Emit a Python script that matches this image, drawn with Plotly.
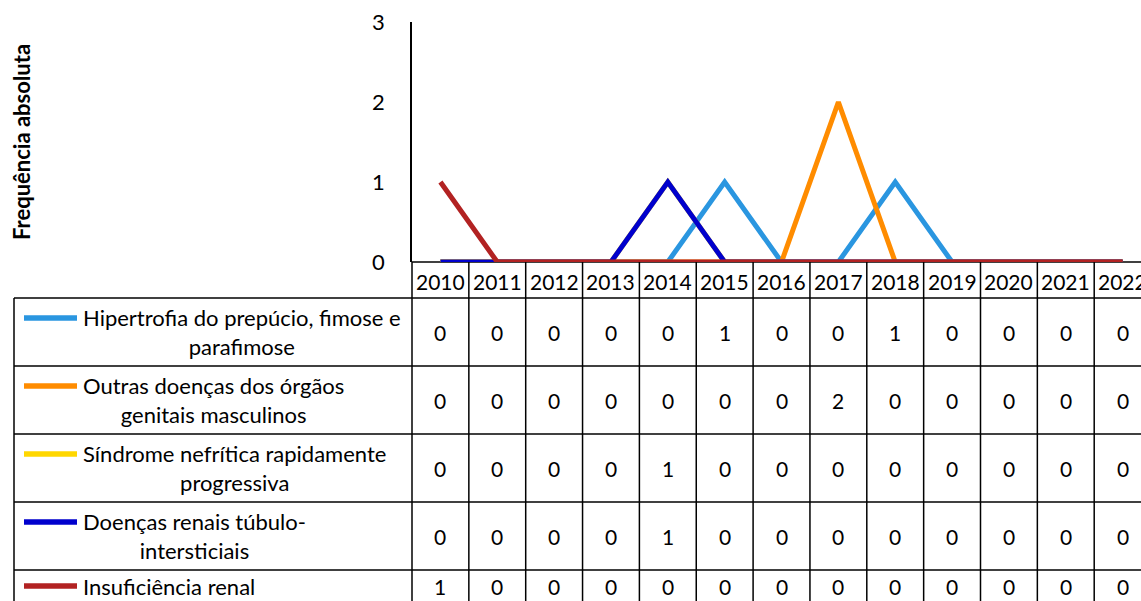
import plotly.graph_objects as go

years = [2010, 2011, 2012, 2013, 2014, 2015, 2016, 2017, 2018, 2019, 2020, 2021, 2022]
series_names = [
    "Hipertrofia do prepúcio, fimose e<br>parafimose",
    "Outras doenças dos órgãos<br>genitais masculinos",
    "Síndrome nefrítica rapidamente<br>progressiva",
    "Doenças renais túbulo-<br>intersticiais",
    "Insuficiência renal",
]
hipertrofia = [0, 0, 0, 0, 0, 1, 0, 0, 1, 0, 0, 0, 0]
outras = [0, 0, 0, 0, 0, 0, 0, 2, 0, 0, 0, 0, 0]
sindrome = [0, 0, 0, 0, 1, 0, 0, 0, 0, 0, 0, 0, 0]
tubulo = [0, 0, 0, 0, 1, 0, 0, 0, 0, 0, 0, 0, 0]
insuficiencia = [1, 0, 0, 0, 0, 0, 0, 0, 0, 0, 0, 0, 0]
series_values = [hipertrofia, outras, sindrome, tubulo, insuficiencia]
colors = ["#2A96E0", "#FF8C00", "#FFD700", "#0000CD", "#B22222"]
y_ticks = [0, 1, 2, 3]

W, H = 1141, 601
L, T, PLOT_BOTTOM = 412, 22, 262
PW = W - L
PH = PLOT_BOTTOM - T
COLW = 56.85
FONT = "Lato, 'Open Sans', sans-serif"


def py(p):
    return (PLOT_BOTTOM - p) / PH


def px(p):
    return (p - L) / PW


fig = go.Figure()
for name, vals, col in zip(series_names, series_values, colors):
    fig.add_trace(go.Scatter(x=years, y=vals, mode="lines", name=name.replace("<br>", " "),
                             line=dict(color=col, width=5), showlegend=False))

x0 = years[0] - 0.5
x1 = x0 + PW / COLW

shapes = []
line_style = dict(color="black", width=1.5)
row_lines = [298, 366, 434, 502, 570, 604]
shapes.append(dict(type="line", xref="x", yref="paper", x0=x0, x1=years[-1] + 0.5,
                   y0=py(262), y1=py(262), line=line_style, layer="below"))
for r in row_lines:
    shapes.append(dict(type="line", xref="paper", yref="paper", x0=px(14), x1=1.1,
                       y0=py(r), y1=py(r), line=line_style))
shapes.append(dict(type="line", xref="paper", yref="paper", x0=px(14), x1=px(14),
                   y0=py(298), y1=py(604), line=line_style))
shapes.append(dict(type="line", xref="paper", yref="paper", x0=0, x1=0,
                   y0=py(262), y1=py(604), line=line_style))
for yv in years:
    xb = yv + 0.5
    shapes.append(dict(type="line", xref="x", yref="paper", x0=xb, x1=xb,
                       y0=py(262), y1=py(604), line=line_style))

row_centers = [332, 400, 468, 536, 586]
first_line = [318, 386, 454, 522, 586]
annotations = []
for i, (name, vals, col) in enumerate(zip(series_names, series_values, colors)):
    shapes.append(dict(type="line", xref="paper", yref="paper", x0=px(24), x1=px(77),
                       y0=py(first_line[i]), y1=py(first_line[i]), line=dict(color=col, width=5.5)))
    annotations.append(dict(text=name, xref="paper", yref="paper", x=px(81), y=py(row_centers[i]),
                            xanchor="left", yanchor="middle", align="center", showarrow=False,
                            font=dict(family=FONT, size=22, color="black")))
    for yv, v in zip(years, vals):
        annotations.append(dict(text=str(v), xref="x", yref="paper", x=yv, y=py(row_centers[i]),
                                xanchor="center", yanchor="middle", showarrow=False,
                                font=dict(family=FONT, size=21, color="black")))

for yv in years:
    annotations.append(dict(text=str(yv), xref="x", yref="paper", x=yv, y=py(281),
                            xanchor="center", yanchor="middle", showarrow=False,
                            font=dict(family=FONT, size=21, color="black")))

annotations.append(dict(text="<b>Frequência absoluta</b>", xref="paper", yref="paper",
                        x=px(21), y=py(142), textangle=-90, xanchor="center", yanchor="middle",
                        showarrow=False, font=dict(family=FONT, size=22, color="black")))

fig.update_layout(
    width=W, height=H,
    margin=dict(l=L, r=0, t=T, b=H - PLOT_BOTTOM, pad=0),
    paper_bgcolor="white", plot_bgcolor="white",
    shapes=shapes, annotations=annotations,
    xaxis=dict(range=[x0, x1], showticklabels=False, showgrid=False, zeroline=False,
               showline=False, fixedrange=True),
    yaxis=dict(range=[0, 3], tickvals=y_ticks, showgrid=False, zeroline=False,
               showline=True, linecolor="black", linewidth=1.5, ticks="",
               ticklabelstandoff=21, tickfont=dict(family=FONT, size=22, color="black"),
               fixedrange=True),
)
fig.write_html("out.html", config={"displayModeBar": False},
               post_script="document.body.style.margin='0';document.body.style.overflow='hidden';")
